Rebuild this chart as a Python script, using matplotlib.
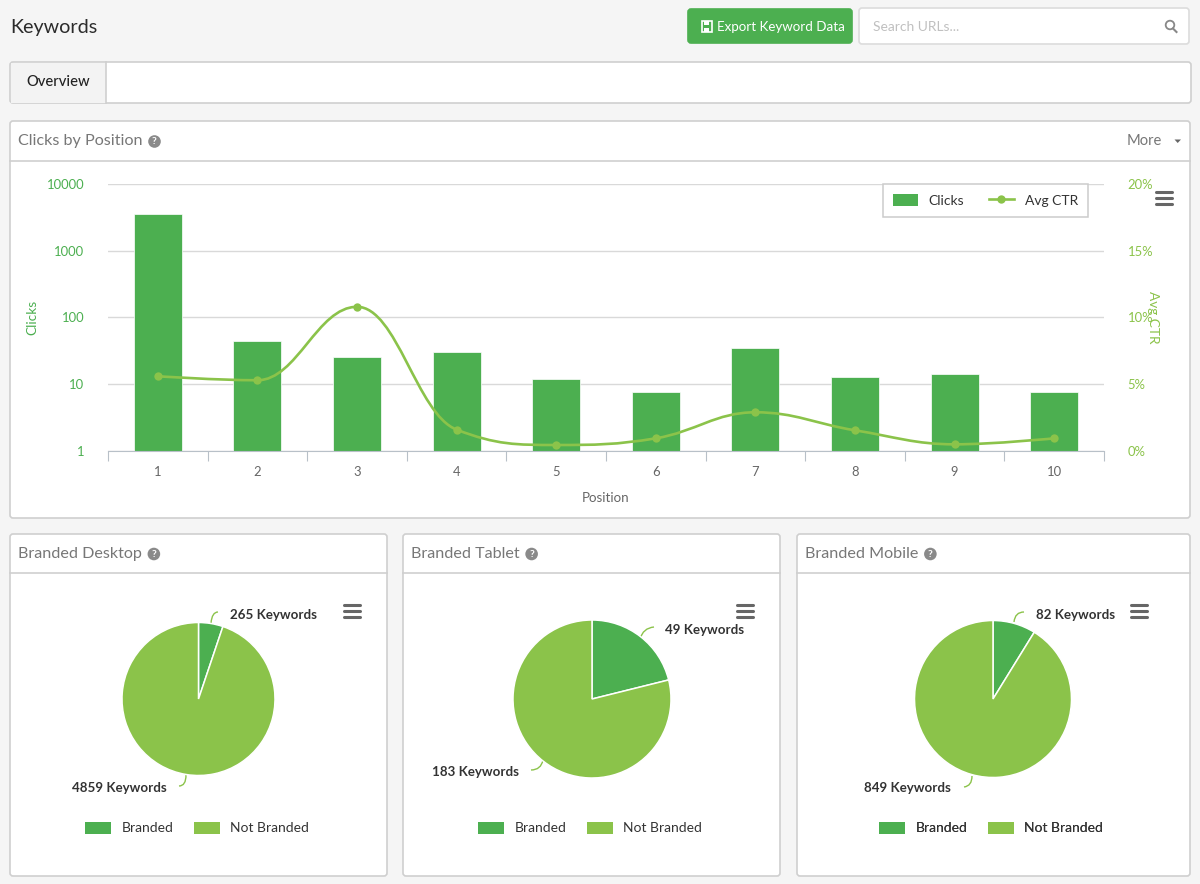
import matplotlib
matplotlib.use("Agg")
import matplotlib.pyplot as plt
from matplotlib.patches import Circle, FancyBboxPatch, PathPatch, Polygon, Rectangle
from matplotlib.path import Path
from matplotlib.lines import Line2D

plt.rcParams["font.family"] = ["Lato", "DejaVu Sans"]

W, H = 1200, 884
GREEN = "#4caf50"
LIGHT = "#8bc34a"
BORDER = "#cfcfcf"
GREY = "#777777"
DARK = "#333333"

# data
positions = [1, 2, 3, 4, 5, 6, 7, 8, 9, 10]
clicks = [3550, 44, 25, 29, 11, 6.7, 34, 12, 13, 6.7]
avg_ctr = [5.6, 5.3, 10.8, 1.6, 0.45, 0.95, 2.9, 1.55, 0.5, 0.95]
clicks_ticks = [1, 10, 100, 1000, 10000]
ctr_ticks = [0, 5, 10, 15, 20]
pie_names = ["Branded Desktop", "Branded Tablet", "Branded Mobile"]
branded = [265, 49, 82]
not_branded = [4859, 183, 849]
pie_labels = ["Branded", "Not Branded"]


def axes_px(x0, y0, x1, y1):
    return fig.add_axes([x0 / W, 1 - y1 / H, (x1 - x0) / W, (y1 - y0) / H], facecolor="none")


def box(x0, y0, x1, y1, fc="white", ec=BORDER, r=3, lw=1.2):
    bg.add_patch(FancyBboxPatch((x0 + r, y0 + r), x1 - x0 - 2 * r, y1 - y0 - 2 * r,
                                boxstyle=f"round,pad={r},rounding_size={r}",
                                fc=fc, ec=ec, lw=lw))


def help_icon(x, y):
    bg.add_patch(Circle((x, y), 6.3, fc="#8a8a8a", ec="none"))
    bg.text(x, y + 0.3, "?", color="white", fontsize=7.5, fontweight="bold",
            ha="center", va="center")


def hamburger(x, y):
    for dy in (-6, 0, 6):
        bg.plot([x - 8, x + 8], [y + dy, y + dy], color="#666666", lw=2.2,
                solid_capstyle="round")


def panel(x0, y0, x1, y1, head_y, title):
    box(x0, y0, x1, y1)
    bg.plot([x0, x1], [head_y, head_y], color=BORDER, lw=1.2)
    txt = bg.text(x0 + 8, (y0 + head_y) / 2 + 0.5, title, color=GREY, fontsize=11.6,
                  ha="left", va="center")
    bbox = txt.get_window_extent(fig.canvas.get_renderer())
    help_icon(bbox.x1 + 12, (y0 + head_y) / 2 + 0.5)


def connector(p0, p1, p2):
    bg.add_patch(PathPatch(Path([p0, p1, p2], [Path.MOVETO, Path.CURVE3, Path.CURVE3]),
                           fc="none", ec=LIGHT, lw=1))


def spline_path(ax, xs, ys):
    # Same control points as a Highcharts spline, smoothing 1.5
    verts = [(xs[0], ys[0])]
    codes = [Path.MOVETO]
    conts = []
    for i in range(len(xs)):
        if i == 0 or i == len(xs) - 1:
            conts.append((None, None, None, None))
            continue
        lx, ly = (1.5 * xs[i] + xs[i - 1]) / 2.5, (1.5 * ys[i] + ys[i - 1]) / 2.5
        rx, ry = (1.5 * xs[i] + xs[i + 1]) / 2.5, (1.5 * ys[i] + ys[i + 1]) / 2.5
        corr = (ry - ly) * (rx - xs[i]) / (rx - lx) + ys[i] - ry
        ly += corr
        ry += corr
        if ly > ys[i - 1] and ly > ys[i]:
            ly = max(ys[i - 1], ys[i])
            ry = 2 * ys[i] - ly
        elif ly < ys[i - 1] and ly < ys[i]:
            ly = min(ys[i - 1], ys[i])
            ry = 2 * ys[i] - ly
        if ry > ys[i + 1] and ry > ys[i]:
            ry = max(ys[i + 1], ys[i])
            ly = 2 * ys[i] - ry
        elif ry < ys[i + 1] and ry < ys[i]:
            ry = min(ys[i + 1], ys[i])
            ly = 2 * ys[i] - ry
        conts.append((lx, ly, rx, ry))
    for i in range(1, len(xs)):
        c0 = (xs[i - 1], ys[i - 1]) if conts[i - 1][0] is None else conts[i - 1][2:]
        c1 = (xs[i], ys[i]) if conts[i][0] is None else conts[i][:2]
        verts += [c0, c1, (xs[i], ys[i])]
        codes += [Path.CURVE4] * 3
    return Path(verts, codes)


fig = plt.figure(figsize=(W / 100, H / 100), dpi=100, facecolor="#f5f5f5")

# page chrome, in pixels
bg = fig.add_axes([0, 0, 1, 1])
bg.set_xlim(0, W)
bg.set_ylim(H, 0)
bg.axis("off")

bg.text(10, 28, "Keywords", color="#2b2b2b", fontsize=14.2, ha="left", va="center")

box(688, 9, 852, 43, fc=GREEN, ec=GREEN, r=3)
bg.add_patch(Rectangle((701.5, 21), 10, 11, fc="none", ec="white", lw=1.2))
bg.add_patch(Rectangle((704, 21), 5, 3.5, fc="white", ec="none"))
bg.add_patch(Rectangle((704, 27.5), 5, 4.5, fc="white", ec="none"))
bg.text(717, 27, "Export Keyword Data", color="white", fontsize=9.6, ha="left", va="center")

box(859, 8, 1189, 44, ec="#dcdcdc")
bg.text(873, 27, "Search URLs...", color="#c0c0c0", fontsize=10, ha="left", va="center")
bg.add_patch(Circle((1170, 25), 4.3, fc="none", ec="#888888", lw=1.3))
bg.plot([1173, 1176.5], [28.5, 32], color="#888888", lw=1.5)

box(10, 62, 1191, 103)
bg.add_patch(Rectangle((11, 63), 95, 39.5, fc="#f3f3f3", ec="none"))
bg.plot([106, 106], [62, 103], color=BORDER, lw=1.2)
bg.text(58.5, 82, "Overview", color="#222222", fontsize=10.6, fontweight="medium",
        ha="center", va="center")

panel(10, 121, 1190, 518, 161, "Clicks by Position")
bg.text(1162, 141, "More", color=GREY, fontsize=10.6, ha="right", va="center")
bg.add_patch(Polygon([(1174.5, 139.5), (1181, 139.5), (1177.7, 143)], fc="#666666", ec="none"))
hamburger(1164, 198)

# clicks by position
ax = axes_px(108, 184, 1104, 451)
ax.bar(positions, clicks, width=0.48, color=GREEN, edgecolor="white", linewidth=0.5,
       bottom=1, zorder=2, label="Clicks")
ax.set_xlim(0.5, 10.5)
ax.set_yscale("log")
ax.set_ylim(1, 10000)
ax.set_yticks(clicks_ticks, labels=[str(v) for v in clicks_ticks])
ax.minorticks_off()
ax.tick_params(axis="y", length=0, pad=17, labelcolor=GREEN, labelsize=9.4)
ax.grid(axis="y", color="#d9d9d9", lw=1, zorder=0)
ax.set_axisbelow(True)
ax.set_xticks(positions, labels=[str(p) for p in positions])
ax.set_xticks([p - 0.5 for p in positions] + [10.5], minor=True)
ax.tick_params(axis="x", which="major", length=0, pad=11, labelcolor="#666666", labelsize=9.4)
ax.tick_params(axis="x", which="minor", length=7, width=0.8, color="#b8c0c8")
for name in ("top", "left", "right"):
    ax.spines[name].set_visible(False)
ax.spines["bottom"].set_color("#b8c0c8")
ax.set_xlabel("Position", color="#666666", fontsize=9.6, labelpad=10)
ax.set_ylabel("Clicks", color=GREEN, fontsize=9.8)
ax.yaxis.set_label_coords(-70 / 996, 0.5)

ax2 = ax.twinx()
ax2.patch.set_visible(False)
ax2.set_ylim(0, 20)
ax2.set_yticks(ctr_ticks, labels=[f"{v}%" for v in ctr_ticks])
ax2.tick_params(axis="y", length=0, pad=17, labelcolor=LIGHT, labelsize=9.4)
for spine in ax2.spines.values():
    spine.set_visible(False)
ax2.set_ylabel("Avg CTR", color=LIGHT, fontsize=9.8, rotation=270)
ax2.yaxis.set_label_coords(1 + 55 / 996, 0.5)
ax2.add_patch(PathPatch(spline_path(ax2, positions, avg_ctr), fc="none", ec=LIGHT, lw=1.9, zorder=4))
ax2.plot(positions, avg_ctr, ls="none", marker="o", ms=6, color=LIGHT, mec="none", zorder=5)

handles = [Rectangle((0, 0), 1, 1, fc=GREEN, ec="none"),
           Line2D([], [], color=LIGHT, lw=1.9, marker="o", ms=6, mec="none")]
leg = ax2.legend(handles, ["Clicks", "Avg CTR"], ncol=2, loc="upper right",
                 bbox_to_anchor=(1088 / W, 1 - 184 / H), bbox_transform=fig.transFigure,
                 fancybox=False, framealpha=1, edgecolor="#cccccc", fontsize=10,
                 labelcolor=DARK, handlelength=1.85, handleheight=1.0, handletextpad=0.75,
                 columnspacing=1.75, borderpad=0.72, borderaxespad=0)
leg.get_frame().set_linewidth(1.1)

# branded pies: panel box, pie centre, radius, label anchors and connector points
panel_boxes = [(10, 387), (403, 780), (797, 1190)]
pie_centres = [(198.5, 699), (592, 699), (993, 699)]
pie_radii = [76.5, 79, 78.5]
top_text_x = [230, 665, 1036]
top_text_y = [615, 630, 615]
top_conn = [((211, 623), (212, 612), (218, 612)),
            ((640, 639), (643, 628), (654, 627)),
            ((1014, 622), (1015, 612), (1024, 612))]
low_text_x = [167, 519, 951]
low_text_y = [788, 772, 788]
low_conn = [((186, 775), (186, 786), (179, 786)),
            ((543, 760), (541, 770), (531, 770)),
            ((972, 776), (972, 786), (964, 787))]
legend_right = [303, 696, 1097]

for i, name in enumerate(pie_names):
    x0, x1 = panel_boxes[i]
    panel(x0, 534, x1, 876, 573, name)
    hamburger(x0 + 342, 611)
    cx, cy = pie_centres[i]
    r = pie_radii[i]
    pax = axes_px(cx - r, cy - r, cx + r, cy + r)
    wedges, _ = pax.pie([branded[i], not_branded[i]], colors=[GREEN, LIGHT], startangle=90,
                        counterclock=False, radius=1,
                        wedgeprops={"edgecolor": "white", "linewidth": 1.1})
    for wedge in wedges:
        wedge.set_clip_on(False)
    pax.set_xlim(-1, 1)
    pax.set_ylim(-1, 1)
    connector(*top_conn[i])
    connector(*low_conn[i])
    bg.text(top_text_x[i], top_text_y[i], f"{branded[i]} Keywords", color=DARK, fontsize=9.6,
            fontweight="bold", ha="left", va="center")
    bg.text(low_text_x[i], low_text_y[i], f"{not_branded[i]} Keywords", color=DARK, fontsize=9.6,
            fontweight="bold", ha="right", va="center")
    handles = [Rectangle((0, 0), 1, 1, fc=GREEN, ec="none"), Rectangle((0, 0), 1, 1, fc=LIGHT, ec="none")]
    pleg = bg.legend(handles, pie_labels, ncol=2, loc="center right",
                     bbox_to_anchor=(legend_right[i] + 6, 828), bbox_transform=bg.transData,
                     frameon=False, fontsize=10, labelcolor=DARK, handlelength=1.85,
                     handleheight=1.0, handletextpad=0.75, columnspacing=1.5,
                     borderpad=0, borderaxespad=0)
    bg.add_artist(pleg)

fig.savefig("out.png", dpi=100, facecolor=fig.get_facecolor())
